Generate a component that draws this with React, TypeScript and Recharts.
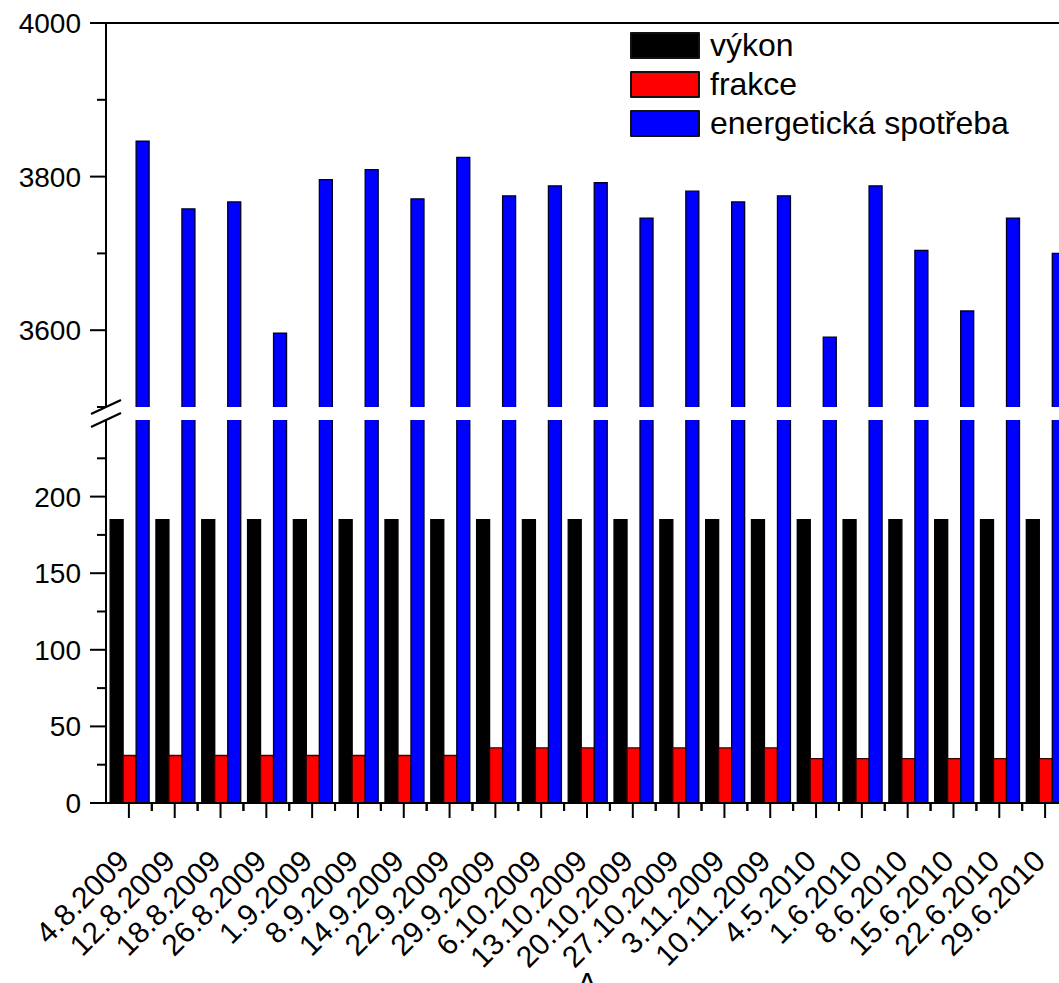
import React from 'react';
import { BarChart, Bar, XAxis, YAxis, Legend, ReferenceLine } from 'recharts';

const dates = [
  '4.8.2009', '12.8.2009', '18.8.2009', '26.8.2009', '1.9.2009', '8.9.2009', '14.9.2009',
  '22.9.2009', '29.9.2009', '6.10.2009', '13.10.2009', '20.10.2009', '27.10.2009', '3.11.2009',
  '10.11.2009', '4.5.2010', '1.6.2010', '8.6.2010', '15.6.2010', '22.6.2010', '29.6.2010',
];
const vykon = [185, 185, 185, 185, 185, 185, 185, 185, 185, 185, 185, 185, 185, 185, 185, 185, 185, 185, 185, 185, 185];
const frakce = [31, 31, 31, 31, 31, 31, 31, 31, 36, 36, 36, 36, 36, 36, 36, 29, 29, 29, 29, 29, 29];
const spotreba = [
  3846, 3758, 3767, 3596, 3796, 3809, 3771, 3825, 3775, 3788, 3792, 3746, 3781, 3767, 3775,
  3591, 3788, 3704, 3625, 3746, 3700,
];

const seriesNames = ['výkon', 'frakce', 'energetická spotřeba'];
const seriesColors = ['#000000', '#ff0000', '#0000ff'];

const upperTicks = [3500, 3600, 3700, 3800, 3900, 4000];
const upperLabels = [3600, 3800, 4000];
const lowerTicks = [0, 25, 50, 75, 100, 125, 150, 175, 200, 225, 250];
const lowerLabels = [0, 50, 100, 150, 200];

// layout
const FONT = '"Liberation Sans", Arial, Helvetica, sans-serif';
const CHART_W = 1080;
const Y_W = 90;
const M_LEFT = 16;
const M_RIGHT = 12;
const PLOT_LEFT = M_LEFT + Y_W;
const PLOT_W = CHART_W - PLOT_LEFT - M_RIGHT;
const BAND = PLOT_W / dates.length;
const LOWER_TOP = 420;
const LOWER_H = 1000;
const X_AXIS_H = 170;
const LOWER_BOTTOM_M = 27;
const AXIS_Y = LOWER_H - LOWER_BOTTOM_M - X_AXIS_H;

const upperData = dates.map((d, i) => ({ date: d, vykon: null, frakce: null, spotreba: spotreba[i] }));
const lowerData = dates.map((d, i) => ({ date: d, vykon: vykon[i], frakce: frakce[i], spotreba: spotreba[i] }));

const OutlinedBar = (props: any) => {
  const { x, y, width, height, fill, stroke } = props;
  if (!isFinite(x) || !isFinite(y) || !width || !height) return null;
  const top = Math.min(y, y + height);
  const h = Math.abs(height);
  return (
    <g>
      <rect x={x} y={top} width={width} height={h} fill={fill} />
      <path
        d={`M${x},${top + h}V${top}H${x + width}V${top + h}`}
        fill="none"
        stroke={stroke}
        strokeWidth={1.3}
      />
    </g>
  );
};

const breakSlash = (y: number) => (
  <line x1={PLOT_LEFT - 15} y1={y + 7} x2={PLOT_LEFT + 15} y2={y - 7} stroke="#000" strokeWidth={2.2} />
);

const makeYTick = (labels: number[], breakValue: number, minorAtBreak: boolean) => (props: any) => {
  const { y, payload } = props;
  const v = payload.value;
  const major = labels.includes(v);
  const len = major ? 16 : 9;
  return (
    <g>
      {(v !== breakValue || minorAtBreak) && (
        <line x1={PLOT_LEFT - len} y1={y} x2={PLOT_LEFT} y2={y} stroke="#000" strokeWidth={2} />
      )}
      {v === breakValue && breakSlash(y)}
      {major && (
        <text x={PLOT_LEFT - 25} y={y} dy="0.355em" textAnchor="end" fontSize={28} fontFamily={FONT} fill="#000">
          {v}
        </text>
      )}
    </g>
  );
};

const UpperTick = makeYTick(upperLabels, 3500, true);
const LowerTick = makeYTick(lowerLabels, 250, false);

const XTick = (props: any) => {
  const { x, payload, index } = props;
  const lx = x + 2;
  const ly = AXIS_Y + 60;
  return (
    <g>
      <line x1={x} y1={AXIS_Y} x2={x} y2={AXIS_Y + 15} stroke="#000" strokeWidth={2} />
      {index > 0 && (
        <line x1={x - BAND / 2} y1={AXIS_Y} x2={x - BAND / 2} y2={AXIS_Y + 8} stroke="#000" strokeWidth={2} />
      )}
      <line x1={x + BAND / 2} y1={AXIS_Y} x2={x + BAND / 2} y2={AXIS_Y + 8} stroke="#000" strokeWidth={2} />
      <text
        x={lx}
        y={ly}
        textAnchor="end"
        fontSize={30}
        fontFamily={FONT}
        fill="#000"
        transform={`rotate(-45, ${lx}, ${ly})`}
      >
        {payload.value}
      </text>
    </g>
  );
};

const renderLegend = () => (
  <div style={{ display: 'flex', flexDirection: 'column', gap: 12, fontFamily: FONT }}>
    {seriesNames.map((name, i) => (
      <div key={name} style={{ display: 'flex', alignItems: 'center', height: 27 }}>
        <div style={{ width: 66, height: 23, background: seriesColors[i], border: '2px solid #111', borderRadius: 1 }} />
        <span style={{ marginLeft: 10, fontSize: 32, lineHeight: '27px', color: '#000', whiteSpace: 'nowrap' }}>{name}</span>
      </div>
    ))}
  </div>
);

const bars = (
  [
    <Bar key="vykon" dataKey="vykon" name={seriesNames[0]} fill={seriesColors[0]} stroke="#000" shape={OutlinedBar} isAnimationActive={false} />,
    <Bar key="frakce" dataKey="frakce" name={seriesNames[1]} fill={seriesColors[1]} stroke="#3a0000" shape={OutlinedBar} isAnimationActive={false} />,
    <Bar key="spotreba" dataKey="spotreba" name={seriesNames[2]} fill={seriesColors[2]} stroke="#000022" shape={OutlinedBar} isAnimationActive={false} />,
  ]
);

export default function App() {
  return (
    <div
      style={{
        position: 'absolute',
        left: 0,
        top: 0,
        width: 1059,
        height: 983,
        overflow: 'hidden',
        background: '#fff',
        fontFamily: FONT,
      }}
    >
      <div style={{ position: 'absolute', left: 0, top: 0 }}>
        <BarChart
          width={CHART_W}
          height={440}
          data={upperData}
          margin={{ top: 23, right: M_RIGHT, bottom: 33, left: M_LEFT }}
          barCategoryGap="9%"
          barGap={0}
        >
          <XAxis dataKey="date" hide />
          <YAxis
            width={Y_W}
            domain={[3500, 4000]}
            ticks={upperTicks}
            interval={0}
            allowDataOverflow
            tickLine={false}
            axisLine={{ stroke: '#000', strokeWidth: 2 }}
            tick={UpperTick}
          />
          <ReferenceLine y={4000} stroke="#000" strokeWidth={2} />
          {bars}
          <Legend
            layout="vertical"
            align="center"
            verticalAlign="middle"
            content={renderLegend}
            wrapperStyle={{ left: 630, top: 32, width: 420, height: 120 }}
          />
        </BarChart>
      </div>
      <div style={{ position: 'absolute', left: 0, top: 0 }}>
        <BarChart
          width={CHART_W}
          height={LOWER_H}
          data={lowerData}
          margin={{ top: LOWER_TOP, right: M_RIGHT, bottom: LOWER_BOTTOM_M, left: M_LEFT }}
          barCategoryGap="9%"
          barGap={0}
        >
          <XAxis
            dataKey="date"
            height={X_AXIS_H}
            interval={0}
            tickLine={false}
            axisLine={{ stroke: '#000', strokeWidth: 2 }}
            tick={XTick}
            label={{ value: 'A', position: 'bottom', offset: 0, fontSize: 31, fill: '#000', fontFamily: FONT }}
          />
          <YAxis
            width={Y_W}
            domain={[0, 250]}
            ticks={lowerTicks}
            interval={0}
            allowDataOverflow
            tickLine={false}
            axisLine={{ stroke: '#000', strokeWidth: 2 }}
            tick={LowerTick}
          />
          {bars}
        </BarChart>
      </div>
    </div>
  );
}
